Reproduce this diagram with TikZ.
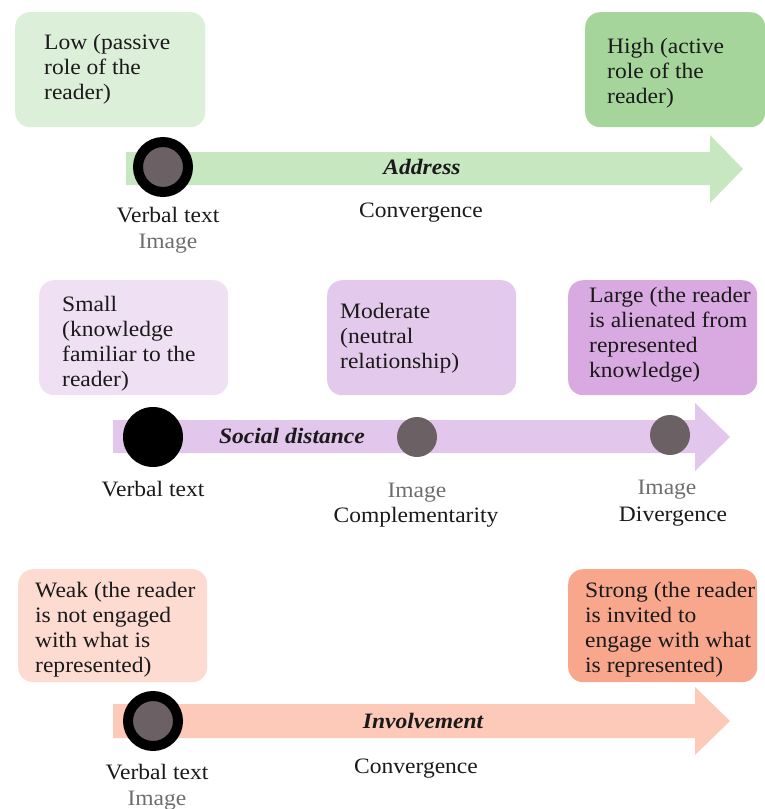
\documentclass[tikz,border=0pt]{standalone}
\usepackage{fontspec}
\setmainfont{Liberation Serif}[FakeStretch=1.07]
\definecolor{gLight}{HTML}{DCEFD8}
\definecolor{gDark}{HTML}{A6D59B}
\definecolor{gArrow}{HTML}{C6E7C0}
\definecolor{pLight}{HTML}{EFE1F3}
\definecolor{pMid}{HTML}{E3C9EB}
\definecolor{pDark}{HTML}{D9A9E1}
\definecolor{pArrow}{HTML}{E3C6EC}
\definecolor{oLight}{HTML}{FDDBD1}
\definecolor{oDark}{HTML}{F9A78C}
\definecolor{oArrow}{HTML}{FDC9B9}
\definecolor{dotGrey}{HTML}{6B6165}
\definecolor{txtGrey}{HTML}{6E6E6E}
\definecolor{txtDark}{HTML}{1A1A1A}
\tikzset{
  pal/.style={font=\fontsize{22}{25}\selectfont, text=txtDark, inner sep=0pt},
  boxtxt/.style={pal, align=left, anchor=north west},
  lbl/.style={pal, anchor=base},
  greylbl/.style={pal, anchor=base, text=txtGrey},
  axislbl/.style={pal, anchor=base, font=\fontsize{22}{25}\selectfont\bfseries\itshape},
  roundbox/.style={rectangle, rounded corners=15pt, draw=none, inner sep=0pt, anchor=north west},
  ringdot/.style={circle, draw=black, line width=10pt, fill=dotGrey, minimum size=50pt, inner sep=0pt},
  blackdot/.style={circle, fill=black, minimum size=60pt, inner sep=0pt},
  greydot/.style={circle, fill=dotGrey, minimum size=40pt, inner sep=0pt},
}
\begin{document}
\begin{tikzpicture}[x=1pt,y=-1pt]
\useasboundingbox (0,0) rectangle (765,809);
\fill[white] (0,0) rectangle (765,809);

% ---------- Row 1: Address ----------
\node[roundbox, fill=gLight, minimum width=190pt, minimum height=115pt] (low) at (15,12) {};
\node[roundbox, fill=gDark, minimum width=180pt, minimum height=115pt] (high) at (585,12) {};
\node[boxtxt] (lowt) at (44,31.5) {\strut Low (passive\\role of the\\reader)};
\node[boxtxt] (hight) at (607,35.5) {\strut High (active\\role of the\\reader)};
\fill[gArrow] (126,152) -- (710,152) -- (710,135) -- (743,169) -- (710,203) -- (710,185) -- (126,185) -- cycle;
\node[ringdot] (v1) at (163,167) {};
\node[axislbl] (addr) at (422,174) {Address};
\node[lbl] (conv1) at (421,217) {Convergence};
\node[lbl] (vt1) at (168,222) {Verbal text};
\node[greylbl] (im1) at (168,248) {Image};

% ---------- Row 2: Social distance ----------
\node[roundbox, fill=pLight, minimum width=189pt, minimum height=115pt] (small) at (39,280) {};
\node[roundbox, fill=pMid, minimum width=189pt, minimum height=115pt] (moder) at (327,280) {};
\node[roundbox, fill=pDark, minimum width=189pt, minimum height=115pt] (large) at (568,280) {};
\node[boxtxt] (smallt) at (62,293.5) {\strut Small\\(knowledge\\familiar to the\\reader)};
\node[boxtxt] (modert) at (340,300.5) {\strut Moderate\\(neutral\\relationship)};
\node[boxtxt] (larget) at (589,284.5) {\strut Large (the reader\\is alienated from\\represented\\knowledge)};
\fill[pArrow] (113,420) -- (695,420) -- (695,403) -- (730,437) -- (695,471) -- (695,453) -- (113,453) -- cycle;
\node[blackdot] (v2) at (153,437) {};
\node[greydot] (i2a) at (417,437) {};
\node[greydot] (i2b) at (670,435) {};
\node[axislbl] (soc) at (292,443) {Social distance};
\node[lbl] (vt2) at (153,496) {Verbal text};
\node[greylbl] (im2a) at (417,497) {Image};
\node[lbl] (comp) at (416,522) {Complementarity};
\node[greylbl] (im2b) at (667,494) {Image};
\node[lbl] (div) at (673,521) {Divergence};

% ---------- Row 3: Involvement ----------
\node[roundbox, fill=oLight, minimum width=189pt, minimum height=113pt] (weak) at (18,569) {};
\node[roundbox, fill=oDark, minimum width=189pt, minimum height=113pt] (strong) at (568,569) {};
\node[boxtxt] (weakt) at (35,579.5) {\strut Weak (the reader\\is not engaged\\with what is\\represented)};
\node[boxtxt] (strongt) at (585,579.5) {\strut Strong (the reader\\is invited to\\engage with what\\is represented)};
\fill[oArrow] (113,704) -- (695,704) -- (695,687) -- (730,721) -- (695,755) -- (695,738) -- (113,738) -- cycle;
\node[ringdot] (v3) at (153,721) {};
\node[axislbl] (inv) at (423,728) {Involvement};
\node[lbl] (conv3) at (416,773) {Convergence};
\node[lbl] (vt3) at (157,779) {Verbal text};
\node[greylbl] (im3) at (157,805) {Image};
\end{tikzpicture}
\end{document}
